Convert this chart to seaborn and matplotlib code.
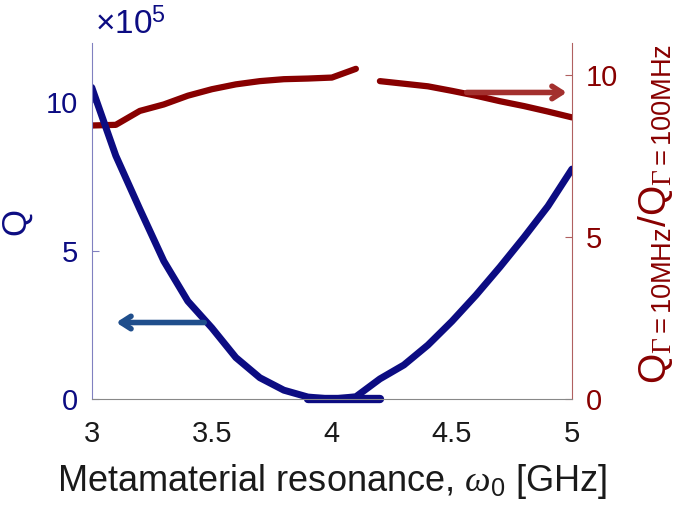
import matplotlib
matplotlib.use("Agg")
import pandas as pd
import matplotlib.pyplot as plt
import seaborn as sns

# Q (x1e5) vs metamaterial resonance
freq = [3.0, 3.1, 3.2, 3.3, 3.4, 3.5, 3.6, 3.7, 3.8, 3.9, 4.0,
        4.1, 4.2, 4.3, 4.4, 4.5, 4.6, 4.7, 4.8, 4.9, 5.0]
q_vals = [10.5, 8.2, 6.4, 4.65, 3.3, 2.4, 1.4, 0.72, 0.3, 0.07, 0.0,
          0.08, 0.68, 1.15, 1.82, 2.62, 3.5, 4.45, 5.45, 6.5, 7.75]
floor_freq = [3.9, 4.2]
floor_q = [0.0, 0.0]

# Q(10MHz)/Q(100MHz) ratio, two segments with a gap near 4.15 GHz
ratio_freq = [3.0, 3.1, 3.2, 3.3, 3.4, 3.5, 3.6, 3.7, 3.8, 3.9, 4.0, 4.1,
              4.2, 4.3, 4.4, 4.5, 4.6, 4.7, 4.8, 4.9, 5.0]
ratio_vals = [8.45, 8.47, 8.9, 9.1, 9.37, 9.57, 9.72, 9.82, 9.88, 9.9, 9.93, 10.2,
              9.82, 9.74, 9.66, 9.52, 9.37, 9.2, 9.05, 8.88, 8.7]
ratio_seg = ["a"] * 12 + ["b"] * 9

x_ticks = [3, 3.5, 4, 4.5, 5]
x_ticklabels = ["3", "3.5", "4", "4.5", "5"]
y_ticks = [0, 5, 10]

BLUE = "#0c0c82"
RED = "#880000"

sns.set_style("white")
plt.rcParams["font.family"] = ["Liberation Sans", "DejaVu Sans"]
plt.rcParams["mathtext.fontset"] = "custom"
plt.rcParams["mathtext.rm"] = "Liberation Serif"
plt.rcParams["mathtext.it"] = "Liberation Serif:italic"
plt.rcParams["mathtext.sf"] = "Liberation Sans"

q_df = pd.DataFrame({"freq": freq, "Q": q_vals})
floor_df = pd.DataFrame({"freq": floor_freq, "Q": floor_q})
ratio_df = pd.DataFrame({"freq": ratio_freq, "ratio": ratio_vals, "seg": ratio_seg})

fig, ax = plt.subplots(figsize=(6.85, 5.11), dpi=100)
fig.subplots_adjust(left=0.134, right=0.835, bottom=0.219, top=0.916)
ax2 = ax.twinx()

sns.lineplot(data=ratio_df, x="freq", y="ratio", units="seg", estimator=None,
             color=RED, lw=4.5, ax=ax2)
sns.lineplot(data=q_df, x="freq", y="Q", color=BLUE, lw=5, ax=ax)
sns.lineplot(data=floor_df, x="freq", y="Q", color=BLUE, lw=6, ax=ax, clip_on=False)

# blue curve drawn above the red one
ax.set_zorder(ax2.get_zorder() + 1)
ax.patch.set_visible(False)

ax.set_xlim(3, 5)
ax.set_ylim(0, 12)
ax2.set_ylim(0, 11)
ax.set_xticks(x_ticks)
ax.set_xticklabels(x_ticklabels)
ax.set_yticks(y_ticks)
ax2.set_yticks(y_ticks)

ax.tick_params(axis="x", direction="in", length=5, pad=15, labelsize=21,
               colors="#555555", labelcolor="#1a1a1a")
ax.tick_params(axis="y", direction="in", length=5, pad=10, labelsize=21,
               colors="#8080c0", labelcolor=BLUE)
ax2.tick_params(axis="y", direction="in", length=5, pad=10, labelsize=21,
                colors="#b06060", labelcolor=RED)

for a in (ax, ax2):
    a.spines["top"].set_visible(False)
ax.spines["bottom"].set_color("#888888")
ax.spines["left"].set_color("#8080c0")
ax.spines["right"].set_visible(False)
ax2.spines["left"].set_visible(False)
ax2.spines["bottom"].set_visible(False)
ax2.spines["right"].set_color("#b06060")

ax.set_xlabel(r"Metamaterial resonance, $\omega_\mathsf{0}$ [GHz]", fontsize=26,
              color="#1a1a1a", labelpad=10)
ax.set_ylabel("Q", fontsize=25, color=BLUE)
ax.yaxis.set_label_coords(-0.125, 0.5)
ax2.set_ylabel(r"Q$_{\Gamma\mathsf{=10MHz}}$/Q$_{\Gamma\mathsf{=100MHz}}$",
               fontsize=28, color=RED)
ax2.yaxis.set_label_coords(1.133, 0.52)

ax.text(0.006, 1.005, r"×10$^{\mathsf{5}}$", transform=ax.transAxes, fontsize=24,
        color=BLUE, ha="left", va="bottom")

# arrows pointing to the relevant axis
ax.annotate("", xy=(3.09, 2.58), xytext=(3.48, 2.58),
            arrowprops=dict(arrowstyle="->,head_length=0.7,head_width=0.45",
                            color="#1f4e8c", lw=4))
ax2.annotate("", xy=(4.99, 9.47), xytext=(4.55, 9.47),
             arrowprops=dict(arrowstyle="->,head_length=0.7,head_width=0.45",
                             color="#a3302e", lw=4))

fig.savefig("out.png", dpi=100)
plt.close(fig)
